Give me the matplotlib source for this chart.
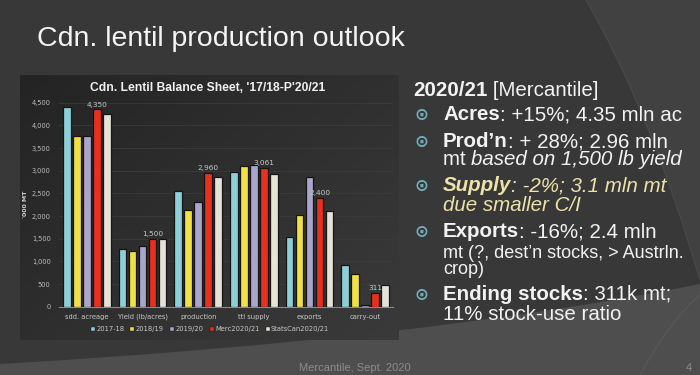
import numpy as np
import matplotlib
matplotlib.use("Agg")
import matplotlib.pyplot as plt
from matplotlib.patches import Rectangle, PathPatch
from matplotlib.path import Path
from matplotlib.lines import Line2D

# ---------------- data ----------------
categories = ["sdd. acreage", "Yield (lb/acres)", "production", "ttl supply", "exports", "carry-out"]
series_names = ["2017-18", "2018/19", "2019/20", "Merc2020/21", "StatsCan2020/21"]
s2017 = [4399, 1272, 2552, 2978, 1529, 912]
s2018 = [3765, 1228, 2132, 3110, 2029, 713]
s2019 = [3768, 1338, 2309, 3118, 2860, 37]
s_merc = [4350, 1500, 2960, 3061, 2400, 311]
s_statscan = [4243, 1485, 2853, 2934, 2103, 470]
merc_labels = ["4,350", "1,500", "2,960", "3,061", "2,400", "311"]
yticks = [0, 500, 1000, 1500, 2000, 2500, 3000, 3500, 4000, 4500]
ytick_labels = ["0", "500", "1,000", "1,500", "2,000", "2,500", "3,000", "3,500", "4,000", "4,500"]

series = [s2017, s2018, s2019, s_merc, s_statscan]
colors = ["#8ccfd9", "#f0df45", "#aaa6cb", "#e8301f", "#e6e2d8"]

W, H = 700, 375
fig = plt.figure(figsize=(7, 3.75), dpi=100)
fig.patch.set_facecolor("#3a3a3a")

# ---------------- slide background ----------------
bg = fig.add_axes([0, 0, 1, 1])
bg.set_xlim(0, W)
bg.set_ylim(H, 0)
bg.axis("off")
bg.add_patch(Rectangle((0, 0), W, H, color="#383838", zorder=0))
verts = [(586, 0), (650, 110), (700, 280), (700, 0), (586, 0)]
codes = [Path.MOVETO, Path.CURVE3, Path.CURVE3, Path.LINETO, Path.CLOSEPOLY]
bg.add_patch(PathPatch(Path(verts, codes), facecolor="#414141", edgecolor="none", zorder=1))
bg.add_patch(PathPatch(Path(verts[:3], codes[:3]), facecolor="none", edgecolor="#4a4a4a", lw=0.8, zorder=2))
verts2 = [(0, 364), (420, 340), (700, 284), (700, 375), (0, 375), (0, 364)]
codes2 = [Path.MOVETO, Path.CURVE3, Path.CURVE3, Path.LINETO, Path.LINETO, Path.CLOSEPOLY]
bg.add_patch(PathPatch(Path(verts2, codes2), facecolor="#4e4e4f", edgecolor="none", zorder=1))
verts3 = [(640, 375), (670, 320), (700, 295)]
bg.add_patch(PathPatch(Path(verts3, [Path.MOVETO, Path.CURVE3, Path.CURVE3]),
                       facecolor="none", edgecolor="#5a5a5a", lw=0.7, zorder=2))

# ---------------- chart panel ----------------
px0, py0, px1, py1 = 20, 75, 398, 340
panel = fig.add_axes([px0 / W, 1 - py1 / H, (px1 - px0) / W, (py1 - py0) / H])
gx, gy = np.meshgrid(np.linspace(0, 1, 200), np.linspace(0, 1, 120))
grad = 0.55 * gx + 0.45 * gy
panel.imshow(grad, cmap=matplotlib.colors.LinearSegmentedColormap.from_list("g", ["#242424", "#3a3a3a"]),
             aspect="auto", extent=[0, 1, 0, 1], origin="upper")
panel.set_xlim(0, 1)
panel.set_ylim(0, 1)
panel.axis("off")

# ---------------- bar chart ----------------
ax_left, ax_right = 59, 393
ax_bottom, ax_top = 306.7, 102.7
ax = fig.add_axes([ax_left / W, 1 - ax_bottom / H, (ax_right - ax_left) / W, (ax_bottom - ax_top) / H])
ax.set_facecolor("none")
x = np.arange(len(categories))
pitch = 0.18
bw = 0.14
for i, (vals, c, name) in enumerate(zip(series, colors, series_names)):
    offs = (i - 2) * pitch
    ax.bar(x + offs, vals, width=bw, color=c, edgecolor="#151515", linewidth=0.9, zorder=3, label=name)
for j, lab in enumerate(merc_labels):
    ax.text(x[j] + 1 * pitch, s_merc[j] + 40, lab, ha="center", va="bottom",
            fontsize=5.3, color="#c8c8c8", zorder=4)

ax.set_xlim(-0.5, len(categories) - 0.5)
ax.set_ylim(0, 4500)
ax.set_yticks(yticks)
ax.set_yticklabels(ytick_labels)
ax.set_xticks(x)
ax.set_xticklabels(categories)
ax.tick_params(axis="y", length=0, labelsize=4.8, labelcolor="#bdbdbd", pad=6)
ax.tick_params(axis="x", length=0, labelsize=4.9, labelcolor="#c8c8c8", pad=5)
for sp in ["top", "right", "left"]:
    ax.spines[sp].set_visible(False)
ax.spines["bottom"].set_color("#8a8a8a")
ax.spines["bottom"].set_linewidth(0.8)
ax.grid(axis="y", color="#3d3d3d", linewidth=0.5, zorder=0)
ax.set_axisbelow(True)
ax.set_ylabel("'000 MT", fontsize=4.5, color="#d0d0d0", fontweight="bold", labelpad=3)

fig.text(208 / W, 1 - 88 / H, "Cdn. Lentil Balance Sheet, '17/18-P'20/21", ha="center", va="center",
         fontsize=8.7, fontweight="bold", color="#f0f0f0", family="Liberation Sans")

handles = [Line2D([0], [0], marker="s", linestyle="none", markersize=2.8, markerfacecolor=c,
                  markeredgecolor="#151515", markeredgewidth=0.3) for c in colors]
fig.legend(handles, series_names, loc="center", bbox_to_anchor=(210 / W, 1 - 329 / H), ncol=5,
           frameon=False, fontsize=4.9, labelcolor="#c8c8c8", handlelength=0.6, handletextpad=0.2,
           columnspacing=0.9)

# ---------------- slide text ----------------
title_fam = ["Liberation Sans Narrow", "Liberation Sans", "DejaVu Sans"]
fig.text(37 / W, 1 - 46 / H, "Cdn. lentil production outlook", ha="left", va="baseline",
         fontsize=20.5, color="#f4f4f4", family=title_fam)

fam = ["Liberation Sans", "DejaVu Sans"]
white = "#f2f2f2"
cream = "#ede3a8"
bullet_c = "#72b0bd"

fig.canvas.draw()
renderer = fig.canvas.get_renderer()


def seq(xpx, ypx, parts, size):
    cx = xpx
    for txt, weight, style, col in parts:
        t = fig.text(cx / W, 1 - ypx / H, txt, ha="left", va="baseline", fontsize=size,
                     fontweight=weight, fontstyle=style, color=col, family=fam)
        bb = t.get_window_extent(renderer=renderer)
        cx += bb.width


def bullet(ypx):
    fig.text(421 / W, 1 - (ypx - 5) / H, "\u2299", ha="center", va="center", fontsize=12,
             color=bullet_c, family=["DejaVu Sans"], fontweight="bold")


TX = 443
FS = 14.8
seq(413, 96, [("2020/21", "bold", "normal", white), (" [Mercantile]", "normal", "normal", white)], FS)
bullet(120)
seq(TX, 120, [("Acres", "bold", "normal", white), (": +15%; 4.35 mln ac", "normal", "normal", white)], FS)
bullet(147)
seq(TX, 147, [("Prod\u2019n", "bold", "normal", white), (": + 28%; 2.96 mln", "normal", "normal", white)], FS)
seq(TX, 165, [("mt ", "normal", "normal", white), ("based on 1,500 lb yield", "normal", "italic", white)], FS)
bullet(191)
seq(TX, 191, [("Supply", "bold", "italic", cream), (": -2%; 3.1 mln mt", "normal", "italic", cream)], FS)
seq(TX, 211, [("due smaller C/I", "normal", "italic", cream)], FS)
bullet(237)
seq(TX, 237, [("Exports", "bold", "normal", white), (": -16%; 2.4 mln", "normal", "normal", white)], FS)
seq(TX, 258, [("mt (?, dest\u2019n stocks, > Austrln.", "normal", "normal", white)], 13.0)
seq(TX, 274, [("crop)", "normal", "normal", white)], 13.0)
bullet(300)
seq(TX, 300, [("Ending stocks", "bold", "normal", white), (": 311k mt;", "normal", "normal", white)], FS)
seq(TX, 320, [("11% stock-use ratio", "normal", "normal", white)], FS)

fig.text(355 / W, 1 - 371 / H, "Mercantile, Sept. 2020", ha="center", va="baseline", fontsize=8,
         color="#8c8c8c", family=fam)
fig.text(689 / W, 1 - 371 / H, "4", ha="center", va="baseline", fontsize=8, color="#8c8c8c", family=fam)

fig.savefig("out.png", dpi=100, facecolor=fig.get_facecolor())
